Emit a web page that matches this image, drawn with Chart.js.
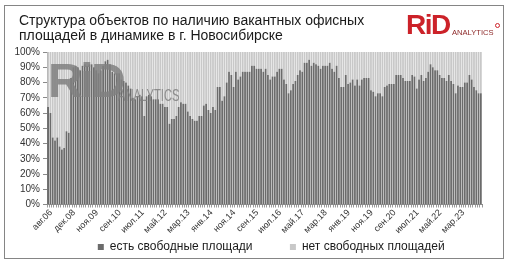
<!DOCTYPE html>
<html><head><meta charset="utf-8">
<script src="https://cdn.jsdelivr.net/npm/chart.js@4/dist/chart.umd.min.js"></script>
<style>
html,body{margin:0;padding:0;background:#fff;}
#wrap{position:relative;width:509px;height:265px;overflow:hidden;font-family:'Liberation Sans',Arial,sans-serif;}
#frame{position:absolute;left:4px;top:5px;width:500px;height:254px;border:1px solid #858585;box-sizing:border-box;pointer-events:none;}
#title{position:absolute;left:19px;top:13px;font-size:14px;line-height:15px;color:#1a1a1a;white-space:nowrap;}
#logo{position:absolute;left:406px;top:9px;white-space:nowrap;}
#logo .rid{font-weight:bold;font-size:28px;letter-spacing:-1.5px;color:#cc2229;}
#logo .an{position:absolute;left:46px;top:18.5px;font-size:7.6px;color:#8e2a2a;letter-spacing:0px;}
#logo .dot{position:absolute;left:89px;top:14px;width:3px;height:3px;border:1px solid #cc2229;border-radius:50%;}
#wm{position:absolute;left:48px;top:53px;white-space:nowrap;color:rgba(128,128,128,0.85);pointer-events:none;}
#wm .rid{font-weight:bold;font-size:48px;letter-spacing:-2.5px;}
#wm .an{position:absolute;left:70px;top:33px;font-size:17px;transform:scaleX(0.66);transform-origin:left top;}
canvas{position:absolute;left:0;top:0;}
</style></head>
<body>
<div id="wrap">
<canvas id="c" width="509" height="265"></canvas>
<div id="title">Структура объектов по наличию вакантных офисных<br>площадей в динамике в г. Новосибирске</div>
<div id="logo"><span class="rid">RiD</span><span class="an">ANALYTICS</span><span class="dot"></span></div>
<div id="wm"><span class="rid">RiD</span><span class="an">ANALYTICS</span></div>
<div id="frame"></div>
</div>
<script>
const categories = [
 'авг.06','ноя.06','фев.07','май.07','авг.07','ноя.07','фев.08','май.08','авг.08','ноя.08',
 'дек.08','фев.09','мар.09','апр.09','май.09','июн.09','июл.09','авг.09','сен.09','окт.09','ноя.09','дек.09',
 'янв.10','фев.10','мар.10','апр.10','май.10','июн.10','июл.10','авг.10','сен.10','окт.10','ноя.10','дек.10',
 'янв.11','фев.11','мар.11','апр.11','май.11','июн.11','июл.11','авг.11','сен.11','окт.11','ноя.11','дек.11',
 'янв.12','фев.12','мар.12','апр.12','май.12','июн.12','июл.12','авг.12','сен.12','окт.12','ноя.12','дек.12',
 'янв.13','фев.13','мар.13','апр.13','май.13','июн.13','июл.13','авг.13','сен.13','окт.13','ноя.13','дек.13',
 'янв.14','фев.14','мар.14','апр.14','май.14','июн.14','июл.14','авг.14','сен.14','окт.14','ноя.14','дек.14',
 'янв.15','фев.15','мар.15','апр.15','май.15','июн.15','июл.15','авг.15','сен.15','окт.15','ноя.15','дек.15',
 'янв.16','фев.16','мар.16','апр.16','май.16','июн.16','июл.16','авг.16','сен.16','окт.16','ноя.16','дек.16',
 'янв.17','фев.17','мар.17','апр.17','май.17','июн.17','июл.17','авг.17','сен.17','окт.17','ноя.17','дек.17',
 'янв.18','фев.18','мар.18','апр.18','май.18','июн.18','июл.18','авг.18','сен.18','окт.18','ноя.18','дек.18',
 'янв.19','фев.19','мар.19','апр.19','май.19','июн.19','июл.19','авг.19','сен.19','окт.19','ноя.19','дек.19',
 'янв.20','фев.20','мар.20','апр.20','май.20','июн.20','июл.20','авг.20','сен.20','окт.20','ноя.20','дек.20',
 'янв.21','фев.21','мар.21','апр.21','май.21','июн.21','июл.21','авг.21','сен.21','окт.21','ноя.21','дек.21',
 'янв.22','фев.22','мар.22','апр.22','май.22','июн.22','июл.22','авг.22','сен.22','окт.22','ноя.22','дек.22',
 'янв.23','фев.23','мар.23','апр.23','май.23','июн.23','июл.23','авг.23','сен.23','окт.23','ноя.23','дек.23'
];
const withVacancy = [
 64,60,44,42,44,38,36,37,48,47,
 83,90,91,90,88,91,92,91,92,92,
 90,88,86,88,91,94,95,92,87,86,
 86,86,82,81,80,78,76,70,69,71,
 72,71,58,71,72,71,69,69,69,66,
 66,64,64,53,56,56,58,64,67,66,
 66,61,58,56,55,55,58,58,65,66,
 62,60,64,62,77,77,68,71,80,87,
 85,77,87,82,84,87,87,87,87,91,
 91,89,89,89,87,89,85,82,84,84,
 87,89,89,82,79,73,75,79,81,85,
 88,87,93,93,95,91,93,92,91,89,
 91,91,91,93,89,87,91,83,77,77,
 85,79,80,82,78,82,78,82,83,83,
 83,75,74,71,73,73,71,77,78,79,
 79,79,85,85,85,83,81,81,81,85,
 84,76,82,85,81,83,87,92,90,88,
 88,85,83,83,81,85,81,79,73,78,
 77,77,80,80,85,82,77,75,73,73
];
const withoutVacancy = [
 36,40,56,58,56,62,64,63,52,53,
 17,10,9,10,12,9,8,9,8,8,
 10,12,14,12,9,6,5,8,13,14,
 14,14,18,19,20,22,24,30,31,29,
 28,29,42,29,28,29,31,31,31,34,
 34,36,36,47,44,44,42,36,33,34,
 34,39,42,44,45,45,42,42,35,34,
 38,40,36,38,23,23,32,29,20,13,
 15,23,13,18,16,13,13,13,13,9,
 9,11,11,11,13,11,15,18,16,16,
 13,11,11,18,21,27,25,21,19,15,
 12,13,7,7,5,9,7,8,9,11,
 9,9,9,7,11,13,9,17,23,23,
 15,21,20,18,22,18,22,18,17,17,
 17,25,26,29,27,27,29,23,22,21,
 21,21,15,15,15,17,19,19,19,15,
 16,24,18,15,19,17,13,8,10,12,
 12,15,17,17,19,15,19,21,27,22,
 23,23,20,20,15,18,23,25,27,27
];
const yTicks = [0,10,20,30,40,50,60,70,80,90,100];
const seriesNames = ['есть свободные площади','нет свободных площадей'];
const labelEvery = 10;

const FONT = "'Liberation Sans', Arial, sans-serif";
const legendGap = '\u00a0'.repeat(10);
new Chart(document.getElementById('c'), {
  type: 'bar',
  data: {
    labels: categories,
    datasets: [
      {label: seriesNames[0], data: withVacancy, backgroundColor: '#6b6b6b', borderWidth: 0, categoryPercentage: 1, barPercentage: 0.78},
      {label: seriesNames[1], data: withoutVacancy, backgroundColor: '#c8c8c8', borderWidth: 0, categoryPercentage: 1, barPercentage: 0.78}
    ]
  },
  options: {
    responsive: false,
    animation: false,
    devicePixelRatio: 1,
    layout: {padding: {left: 5, right: 27, top: 52, bottom: 2}},
    plugins: {
      legend: {
        position: 'bottom',
        align: 'end',
        labels: {
          boxWidth: 6, boxHeight: 6, padding: 4, color: '#1a1a1a', font: {family: FONT, size: 12},
          generateLabels: ch => ch.data.datasets.map((d, i) => ({
            text: d.label + legendGap, fillStyle: d.backgroundColor, strokeStyle: d.backgroundColor,
            lineWidth: 0, hidden: false, datasetIndex: i, fontColor: '#1a1a1a'
          }))
        }
      },
      tooltip: {enabled: false},
      title: {display: false}
    },
    scales: {
      x: {
        stacked: true,
        offset: true,
        afterFit: s => { s.height = 32.5; },
        grid: {display: true, drawOnChartArea: false, drawTicks: true, tickLength: 3, color: '#9a9a9a'},
        border: {display: true, color: '#8a8a8a'},
        ticks: {
          autoSkip: false, maxRotation: 45, minRotation: 45, padding: 0, labelOffset: 3,
          color: '#333', font: {family: FONT, size: 9},
          callback: (v, i) => (i % labelEvery === 0 ? categories[i] : '')
        }
      },
      y: {
        stacked: true,
        min: 0, max: 100,
        afterFit: s => { s.width = 42; },
        afterBuildTicks: s => { s.ticks = yTicks.map(v => ({value: v})); },
        grid: {display: true, drawOnChartArea: false, drawTicks: true, tickLength: 4, color: '#8a8a8a'},
        border: {display: true, color: '#8a8a8a'},
        ticks: {color: '#333', padding: 3, font: {family: FONT, size: 10}, callback: v => v + '%'}
      }
    }
  }
});
</script>
</body></html>
